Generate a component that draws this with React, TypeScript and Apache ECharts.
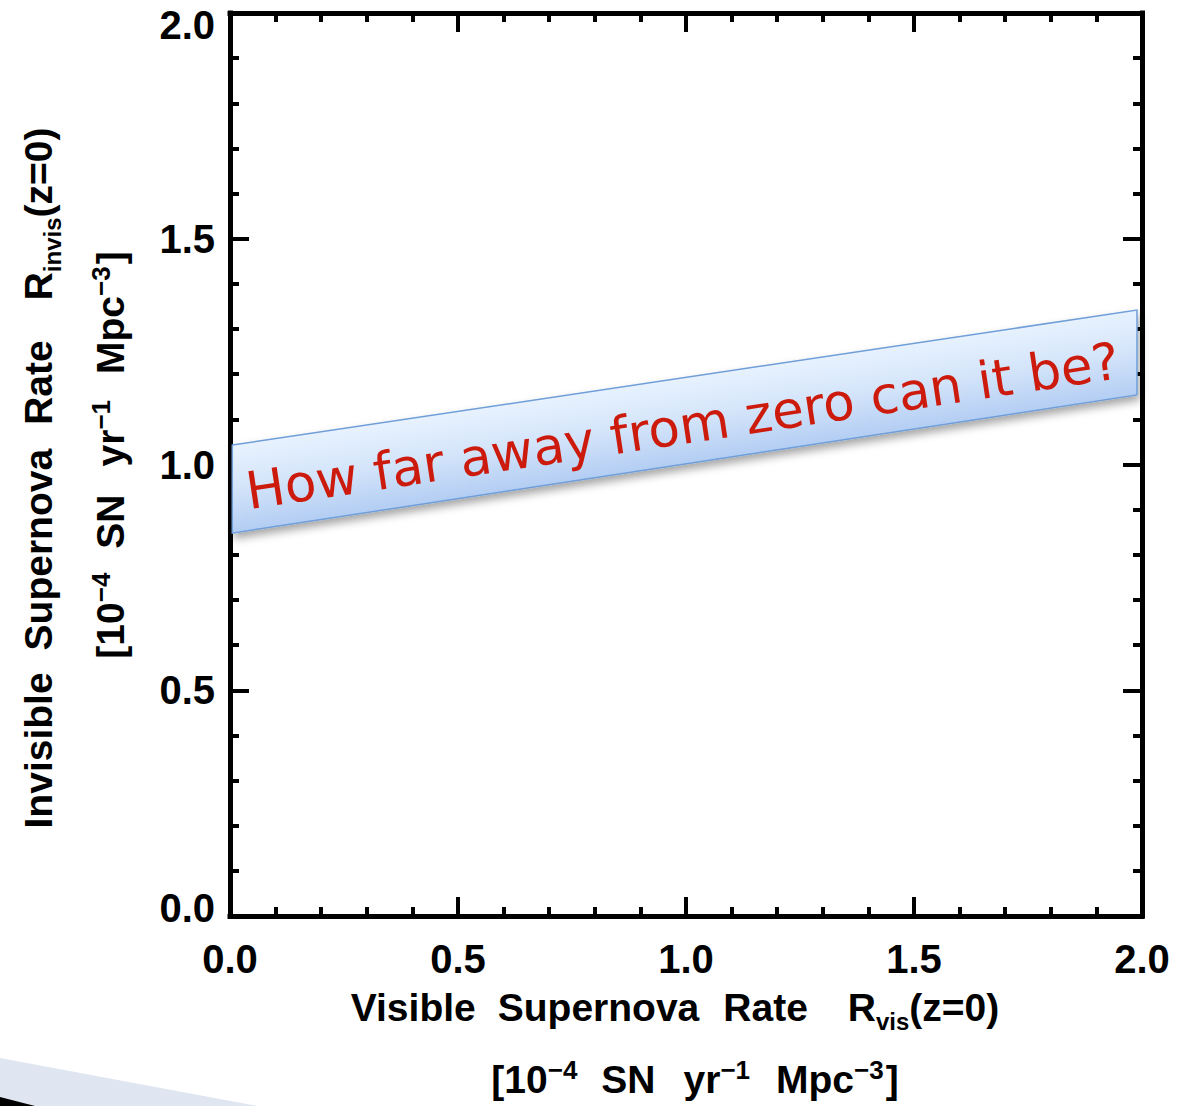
import React, { useEffect, useRef } from "react";
import * as echarts from "echarts";

// Axis ranges and ticks (both axes share the same scale)
const axisMin = 0;
const axisMax = 2;
const majorStep = 0.5;
const minorSplits = 5;

// Annotation band, in data units: left/right x, lower and upper edge y
const bannerX = [0.005, 1.989];
const bannerBottom = [0.848, 1.154];
const bannerTop = [1.043, 1.342];
const bannerText = "How far away from zero can it be?";

// Axis title pieces (text, font size, vertical shift, gap before)
type Piece = { t: string; s?: number; dy?: number; gap?: number };
const xTitleTop: Piece[] = [
  { t: "Visible" },
  { t: "Supernova", gap: 22 },
  { t: "Rate", gap: 24 },
  { t: "R", gap: 40 },
  { t: "vis", s: 24, dy: 14 },
  { t: "(z=0)" },
];
const yTitleTop: Piece[] = [
  { t: "Invisible" },
  { t: "Supernova", gap: 22 },
  { t: "Rate", gap: 24 },
  { t: "R", gap: 40 },
  { t: "invis", s: 24, dy: 14 },
  { t: "(z=0)" },
];
const unitsLine: Piece[] = [
  { t: "[10" },
  { t: "\u22124", s: 26, dy: -9 },
  { t: "SN", gap: 24 },
  { t: "yr", gap: 28 },
  { t: "\u22121", s: 26, dy: -9 },
  { t: "Mpc", gap: 26 },
  { t: "\u22123", s: 26, dy: -9 },
  { t: "]", gap: 2 },
];

const TITLE_FONT = "Liberation Sans";
const TITLE_SIZE = 39;

let measureCtx: CanvasRenderingContext2D | null = null;
function textWidth(t: string, size: number): number {
  if (!measureCtx) measureCtx = document.createElement("canvas").getContext("2d");
  measureCtx!.font = `bold ${size}px "${TITLE_FONT}"`;
  return measureCtx!.measureText(t).width;
}

// Lays out a line of text pieces centred at (cx, cy), optionally rotated
function titleLine(pieces: Piece[], cx: number, cy: number, rotation = 0) {
  const widths = pieces.map((p) => textWidth(p.t, p.s ?? TITLE_SIZE));
  const total =
    widths.reduce((a, b) => a + b, 0) + pieces.reduce((a, p) => a + (p.gap ?? 0), 0);
  let x = -total / 2;
  const children = pieces.map((p, i) => {
    x += p.gap ?? 0;
    const el = {
      type: "text",
      x,
      y: p.dy ?? 0,
      style: {
        text: p.t,
        fontFamily: TITLE_FONT,
        fontWeight: "bold",
        fontSize: p.s ?? TITLE_SIZE,
        fill: "#000",
        align: "left",
        verticalAlign: "middle",
      },
    };
    x += widths[i];
    return el;
  });
  return { type: "group", x: cx, y: cy, rotation, children };
}

const frameAxis = {
  type: "value",
  min: axisMin,
  max: axisMax,
  interval: majorStep,
  axisLine: { show: true, onZero: false, lineStyle: { color: "#000", width: 5, cap: "square" } },
  axisTick: { show: true, inside: true, length: 19, lineStyle: { color: "#000", width: 4 } },
  minorTick: { show: true, splitNumber: minorSplits, length: 9, lineStyle: { color: "#000", width: 4 } },
  splitLine: { show: false },
  minorSplitLine: { show: false },
};

const labelFont = {
  fontFamily: "Liberation Sans",
  fontWeight: "bold",
  fontSize: 40,
  color: "#000",
};

export default function App() {
  const ref = useRef<HTMLDivElement>(null);

  useEffect(() => {
    document.body.style.margin = "0";
    document.body.style.overflow = "hidden";
    if (!ref.current) return;
    const chart = echarts.init(ref.current, undefined, { renderer: "svg" });

    const option = {
      animation: false,
      backgroundColor: "#fff",
      grid: { left: 230, top: 13, right: 53, bottom: 190, containLabel: false },
      xAxis: [
        {
          ...frameAxis,
          position: "bottom",
          axisLabel: {
            ...labelFont,
            margin: 23,
            formatter: (v: number) => v.toFixed(1),
          },
        },
        { ...frameAxis, position: "top", axisLabel: { show: false } },
      ],
      yAxis: [
        {
          ...frameAxis,
          position: "left",
          axisLabel: {
            margin: 15,
            formatter: (v: number) => {
              const s = v.toFixed(1);
              if (v === axisMax) return `{hi|${s}}`;
              if (v === axisMin) return `{lo|${s}}`;
              return `{n|${s}}`;
            },
            rich: {
              n: { ...labelFont },
              hi: { ...labelFont, padding: [24, 0, 0, 0] },
              lo: { ...labelFont, padding: [0, 0, 16, 0] },
            },
          },
        },
        { ...frameAxis, position: "right", axisLabel: { show: false } },
      ],
      series: [
        {
          type: "custom",
          coordinateSystem: "cartesian2d",
          xAxisIndex: 0,
          yAxisIndex: 0,
          clip: false,
          silent: true,
          data: [[bannerX[0], bannerBottom[0], bannerTop[0], bannerX[1], bannerBottom[1], bannerTop[1]]],
          renderItem: (_params: any, api: any) => {
            const lt = api.coord([api.value(0), api.value(2)]);
            const lb = api.coord([api.value(0), api.value(1)]);
            const rt = api.coord([api.value(3), api.value(5)]);
            const rb = api.coord([api.value(3), api.value(4)]);
            const angle = Math.atan2(
              lt[1] - rt[1] + (lb[1] - rb[1]),
              rt[0] - lt[0] + (rb[0] - lb[0])
            );
            const cx = (lt[0] + lb[0] + rt[0] + rb[0]) / 4;
            const cy = (lt[1] + lb[1] + rt[1] + rb[1]) / 4;
            const thick = (((lb[1] - lt[1]) + (rb[1] - rt[1])) / 2) * Math.cos(angle);
            const nx = Math.sin(angle);
            const ny = Math.cos(angle);
            const fill = new echarts.graphic.LinearGradient(
              cx - (nx * thick) / 2,
              cy - (ny * thick) / 2,
              cx + (nx * thick) / 2,
              cy + (ny * thick) / 2,
              [
                { offset: 0, color: "#e8f2fe" },
                { offset: 0.5, color: "#d3e4fa" },
                { offset: 1, color: "#b3cdf3" },
              ],
              true
            );
            return {
              type: "group",
              children: [
                {
                  type: "polygon",
                  shape: { points: [lt, rt, rb, lb] },
                  style: {
                    fill,
                    stroke: "#6f9ed8",
                    lineWidth: 1.5,
                    shadowBlur: 8,
                    shadowOffsetX: 2,
                    shadowOffsetY: 5,
                    shadowColor: "rgba(0,0,0,0.35)",
                  },
                },
                {
                  type: "text",
                  x: cx - 2,
                  y: cy + 5,
                  rotation: angle,
                  style: {
                    text: bannerText,
                    fontFamily: "DejaVu Sans",
                    fontSize: 51.5,
                    fill: "#cc1b0c",
                    align: "center",
                    verticalAlign: "middle",
                  },
                },
              ],
            };
          },
        },
      ],
      graphic: [
        {
          type: "polygon",
          silent: true,
          shape: { points: [[0, 1058], [258, 1106], [0, 1106]] },
          style: { fill: "#dfe5f1" },
        },
        {
          type: "polygon",
          silent: true,
          shape: { points: [[0, 1097], [35, 1106], [0, 1106]] },
          style: { fill: "#000" },
        },
        titleLine(xTitleTop, 675, 1007),
        titleLine(unitsLine, 695, 1079),
        titleLine(yTitleTop, 38, 478, Math.PI / 2),
        titleLine(unitsLine, 110, 455, Math.PI / 2),
      ],
    };

    chart.setOption(option as any);
    return () => chart.dispose();
  }, []);

  return <div ref={ref} style={{ width: 1195, height: 1106 }} />;
}
